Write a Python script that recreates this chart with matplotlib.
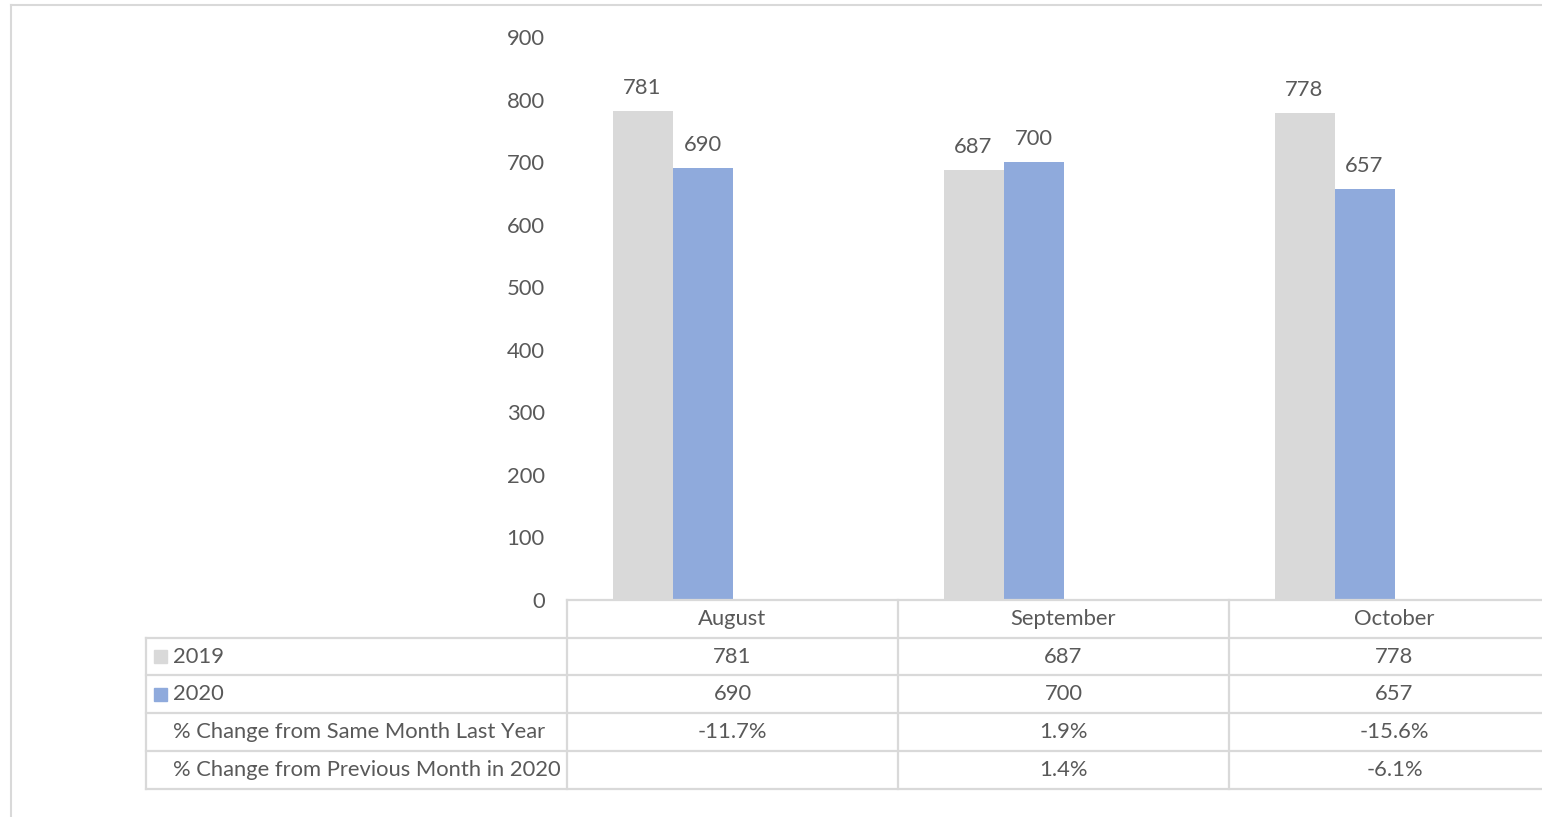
import matplotlib.pyplot as plt
import matplotlib.transforms as mtransforms
from matplotlib.lines import Line2D
from matplotlib.patches import Rectangle
import numpy as np

months = ['August', 'September', 'October']
y2019 = [781, 687, 778]
y2020 = [690, 700, 657]
chg_year = ['-11.7%', '1.9%', '-15.6%']
chg_month = ['', '1.4%', '-6.1%']
row_labels = ['2019', '2020', '% Change from Same Month Last Year',
              '% Change from Previous Month in 2020']

c2019 = '#d9d9d9'
c2020 = '#8faadc'
txt = '#595959'
grid = '#d9d9d9'

plt.rcParams['font.family'] = ['Lato', 'DejaVu Sans']
fs = 15.8

W, H = 1542, 817
fig = plt.figure(figsize=(W / 100, H / 100), dpi=100)

# plot area in pixels: x 567 -> 1560, y 600 (0) -> 37 (900)
ax = fig.add_axes([567 / W, (H - 600) / H, (1560 - 567) / W, 563 / H])
x = np.arange(len(months))
w = 60 / 331
b1 = ax.bar(x - 1.5 * w, y2019, w, color=c2019)
b2 = ax.bar(x - 0.5 * w, y2020, w, color=c2020)
for bars, vals in ((b1, y2019), (b2, y2020)):
    for r, v in zip(bars, vals):
        ax.annotate(str(v), (r.get_x() + r.get_width() / 2, v),
                    xytext=(0, 9.5), textcoords='offset points',
                    ha='center', va='bottom', fontsize=fs, color=txt)

ax.set_xlim(-0.5, 2.5)
ax.set_ylim(0, 900)
ax.set_yticks(range(0, 901, 100))
ax.tick_params(axis='y', length=0, labelsize=fs, labelcolor=txt, pad=16)
ax.set_xticks([])
for s in ax.spines.values():
    s.set_visible(False)

# data table under the axis
trans = mtransforms.blended_transform_factory(ax.transData, ax.transAxes)
rh = 37.7 / 563
left = -0.5 - 421 / 331
right = 2.6
ys = [-rh * i for i in range(6)]
lw = 1.6

def hline(y, x0, x1):
    ax.add_line(Line2D([x0, x1], [y, y], transform=trans, color=grid,
                       lw=lw, clip_on=False))

def vline(xx, y0, y1):
    ax.add_line(Line2D([xx, xx], [y0, y1], transform=trans, color=grid,
                       lw=lw, clip_on=False))

hline(ys[0], -0.5, right)
for y in ys[1:]:
    hline(y, left, right)
vline(left, ys[1], ys[5])
for xx in (-0.5, 0.5, 1.5):
    vline(xx, ys[0], ys[5])

for i, m in enumerate(months):
    ax.text(i, (ys[0] + ys[1]) / 2, m, transform=trans, ha='center',
            va='center', fontsize=fs, color=txt)

rows = [[str(v) for v in y2019], [str(v) for v in y2020], chg_year, chg_month]
for r, vals in enumerate(rows):
    yc = (ys[r + 1] + ys[r + 2]) / 2
    for i, v in enumerate(vals):
        ax.text(i, yc, v, transform=trans, ha='center', va='center',
                fontsize=fs, color=txt)
    ax.text(left + 27 / 331, yc, row_labels[r], transform=trans, ha='left',
            va='center', fontsize=fs, color=txt)

# legend keys in the table
for r, col in enumerate([c2019, c2020]):
    yc = (ys[r + 1] + ys[r + 2]) / 2
    ax.add_patch(Rectangle((left + 8 / 331, yc - 6.5 / 563), 13 / 331, 13 / 563,
                           transform=trans, color=col, clip_on=False))

# outer chart border
fig.add_artist(Line2D([11 / W, 11 / W], [0, (H - 5) / H], color=grid, lw=1.5))
fig.add_artist(Line2D([11 / W, 1541 / W], [(H - 5) / H, (H - 5) / H],
                      color=grid, lw=1.5))

fig.savefig('out.png', dpi=100)
